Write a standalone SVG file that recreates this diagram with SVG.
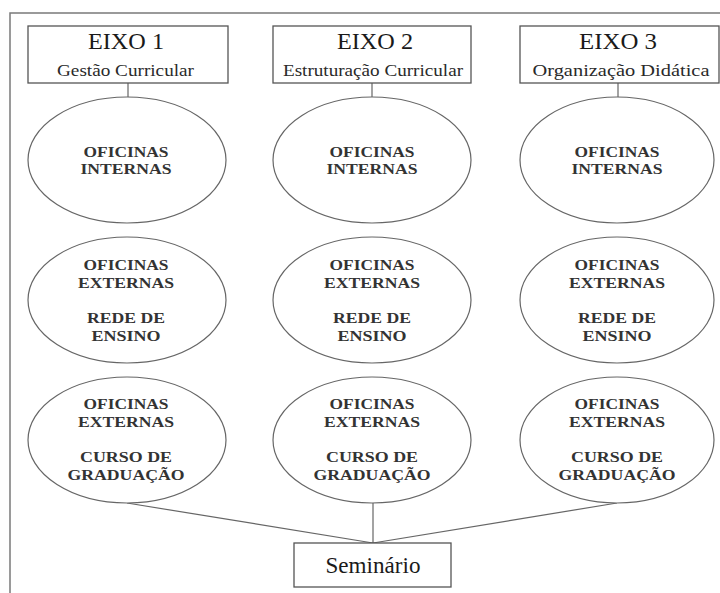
<svg xmlns="http://www.w3.org/2000/svg" width="720" height="593" viewBox="0 0 720 593">
<style>
.frame{fill:none;stroke:#7a7a7a;stroke-width:1.5}
.box{fill:#fff;stroke:#555;stroke-width:1.3}
.ell{fill:#fff;stroke:#666;stroke-width:1.2}
.conn line{stroke:#666;stroke-width:1.2}
text{font-family:"Liberation Serif","Times New Roman",serif;text-anchor:middle}
.h{font-size:23px;fill:#1a1a1a}
.s{font-size:17px;fill:#2a2a2a}
.e{font-size:15.5px;font-weight:bold;fill:#333}
.sem{font-size:23px;fill:#1a1a1a}
</style>
<rect width="720" height="593" fill="#fff"/>
<rect class="frame" x="10" y="13" width="730" height="600"/>
<g id="connectors" class="conn">
<line x1="128" y1="83" x2="128" y2="97"/>
<line x1="372" y1="83" x2="372" y2="97"/>
<line x1="618" y1="83" x2="618" y2="97"/>
<line x1="127" y1="503" x2="373" y2="543"/>
<line x1="373" y1="503" x2="373" y2="543"/>
<line x1="617" y1="503" x2="373" y2="543"/>
</g>
<g id="eixo1"><rect class="box" x="28" y="26" width="200" height="57"/><text class="h" x="126" y="49" textLength="76" lengthAdjust="spacingAndGlyphs">EIXO 1</text><text class="s" x="125.5" y="76" textLength="137" lengthAdjust="spacingAndGlyphs">Gestão Curricular</text></g>
<g id="eixo2"><rect class="box" x="273" y="26" width="198" height="57"/><text class="h" x="375" y="49" textLength="76" lengthAdjust="spacingAndGlyphs">EIXO 2</text><text class="s" x="373" y="76" textLength="180" lengthAdjust="spacingAndGlyphs">Estruturação Curricular</text></g>
<g id="eixo3"><rect class="box" x="520" y="26" width="199" height="57"/><text class="h" x="618" y="49" textLength="78" lengthAdjust="spacingAndGlyphs">EIXO 3</text><text class="s" x="621" y="76" textLength="177" lengthAdjust="spacingAndGlyphs">Organização Didática</text></g>

<g id="int1"><ellipse class="ell" cx="127" cy="160" rx="99" ry="63"/><text class="e" x="126" y="156.5" textLength="85" lengthAdjust="spacingAndGlyphs">OFICINAS</text><text class="e" x="126" y="174" textLength="91" lengthAdjust="spacingAndGlyphs">INTERNAS</text></g>
<g id="int2"><ellipse class="ell" cx="372" cy="160" rx="99" ry="63"/><text class="e" x="372" y="156.5" textLength="85" lengthAdjust="spacingAndGlyphs">OFICINAS</text><text class="e" x="372" y="174" textLength="91" lengthAdjust="spacingAndGlyphs">INTERNAS</text></g>
<g id="int3"><ellipse class="ell" cx="617" cy="160" rx="97" ry="63"/><text class="e" x="617" y="156.5" textLength="85" lengthAdjust="spacingAndGlyphs">OFICINAS</text><text class="e" x="617" y="174" textLength="91" lengthAdjust="spacingAndGlyphs">INTERNAS</text></g>

<g id="rede1"><ellipse class="ell" cx="127" cy="300" rx="99" ry="63"/><text class="e" x="126" y="270" textLength="85" lengthAdjust="spacingAndGlyphs">OFICINAS</text><text class="e" x="126" y="287.5" textLength="96" lengthAdjust="spacingAndGlyphs">EXTERNAS</text><text class="e" x="126" y="323" textLength="78" lengthAdjust="spacingAndGlyphs">REDE DE</text><text class="e" x="126" y="340.5" textLength="69" lengthAdjust="spacingAndGlyphs">ENSINO</text></g>
<g id="rede2"><ellipse class="ell" cx="372" cy="300" rx="99" ry="63"/><text class="e" x="372" y="270" textLength="85" lengthAdjust="spacingAndGlyphs">OFICINAS</text><text class="e" x="372" y="287.5" textLength="96" lengthAdjust="spacingAndGlyphs">EXTERNAS</text><text class="e" x="372" y="323" textLength="78" lengthAdjust="spacingAndGlyphs">REDE DE</text><text class="e" x="372" y="340.5" textLength="69" lengthAdjust="spacingAndGlyphs">ENSINO</text></g>
<g id="rede3"><ellipse class="ell" cx="617" cy="300" rx="97" ry="63"/><text class="e" x="617" y="270" textLength="85" lengthAdjust="spacingAndGlyphs">OFICINAS</text><text class="e" x="617" y="287.5" textLength="96" lengthAdjust="spacingAndGlyphs">EXTERNAS</text><text class="e" x="617" y="323" textLength="78" lengthAdjust="spacingAndGlyphs">REDE DE</text><text class="e" x="617" y="340.5" textLength="69" lengthAdjust="spacingAndGlyphs">ENSINO</text></g>

<g id="grad1"><ellipse class="ell" cx="127" cy="440" rx="99" ry="63"/><text class="e" x="126" y="409" textLength="85" lengthAdjust="spacingAndGlyphs">OFICINAS</text><text class="e" x="126" y="426.5" textLength="96" lengthAdjust="spacingAndGlyphs">EXTERNAS</text><text class="e" x="126" y="462" textLength="92" lengthAdjust="spacingAndGlyphs">CURSO DE</text><text class="e" x="126" y="479.5" textLength="117" lengthAdjust="spacingAndGlyphs">GRADUAÇÃO</text></g>
<g id="grad2"><ellipse class="ell" cx="372" cy="440" rx="99" ry="63"/><text class="e" x="372" y="409" textLength="85" lengthAdjust="spacingAndGlyphs">OFICINAS</text><text class="e" x="372" y="426.5" textLength="96" lengthAdjust="spacingAndGlyphs">EXTERNAS</text><text class="e" x="372" y="462" textLength="92" lengthAdjust="spacingAndGlyphs">CURSO DE</text><text class="e" x="372" y="479.5" textLength="117" lengthAdjust="spacingAndGlyphs">GRADUAÇÃO</text></g>
<g id="grad3"><ellipse class="ell" cx="617" cy="440" rx="97" ry="63"/><text class="e" x="617" y="409" textLength="85" lengthAdjust="spacingAndGlyphs">OFICINAS</text><text class="e" x="617" y="426.5" textLength="96" lengthAdjust="spacingAndGlyphs">EXTERNAS</text><text class="e" x="617" y="462" textLength="92" lengthAdjust="spacingAndGlyphs">CURSO DE</text><text class="e" x="617" y="479.5" textLength="117" lengthAdjust="spacingAndGlyphs">GRADUAÇÃO</text></g>

<g id="seminario"><rect class="box" x="294" y="543" width="157" height="44"/><text class="sem" x="373" y="573" textLength="95" lengthAdjust="spacingAndGlyphs">Seminário</text></g>
</svg>
